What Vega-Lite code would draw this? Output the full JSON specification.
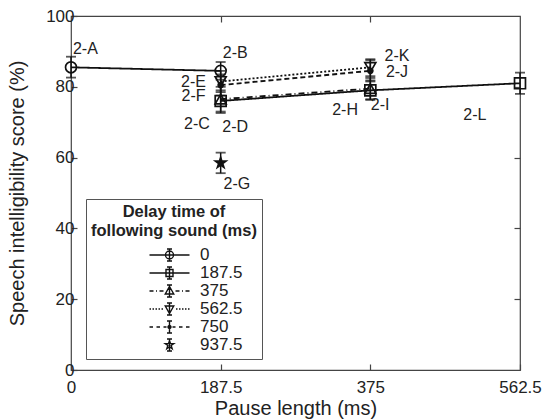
{
  "$schema": "https://vega.github.io/schema/vega-lite/v6.json",
  "width": 449,
  "height": 354,
  "autosize": "none",
  "padding": {"left": 71, "top": 16, "right": 29, "bottom": 49},
  "background": "white",
  "config": {
    "view": {"stroke": "#444", "strokeWidth": 1.2},
    "font": "Liberation Sans",
    "axis": {
      "labelFont": "Liberation Sans",
      "titleFont": "Liberation Sans",
      "labelColor": "#222",
      "titleColor": "#222",
      "titleFontWeight": "normal",
      "labelFontSize": 17,
      "titleFontSize": 20,
      "domain": false,
      "grid": false,
      "tickColor": "#444",
      "tickWidth": 1.2,
      "tickSize": -6,
      "labelFlush": false,
      "labelOverlap": false
    }
  },
  "datasets": {
    "points": [
      {"id": "2-A", "pause": 0, "score": 85.5, "lo": 82.6, "hi": 88.5, "delay": "0"},
      {"id": "2-B", "pause": 187.5, "score": 84.5, "lo": 82, "hi": 87, "delay": "0"},
      {"id": "2-C", "pause": 187.5, "score": 76, "lo": 73, "hi": 79, "delay": "187.5"},
      {"id": "2-D", "pause": 187.5, "score": 76.5, "lo": 72.6, "hi": 80, "delay": "375"},
      {"id": "2-E", "pause": 187.5, "score": 81.5, "lo": 78.5, "hi": 84.5, "delay": "562.5"},
      {"id": "2-F", "pause": 187.5, "score": 80.5, "lo": 77.5, "hi": 83.5, "delay": "750"},
      {"id": "2-G", "pause": 187.5, "score": 58.5, "lo": 55.6, "hi": 61.4, "delay": "937.5"},
      {"id": "2-H", "pause": 375, "score": 79.5, "lo": 76.5, "hi": 82.5, "delay": "375"},
      {"id": "2-I", "pause": 375, "score": 79, "lo": 76.3, "hi": 81.8, "delay": "187.5"},
      {"id": "2-J", "pause": 375, "score": 84.5, "lo": 81.5, "hi": 87.5, "delay": "750"},
      {"id": "2-K", "pause": 375, "score": 85.5, "lo": 83, "hi": 87.8, "delay": "562.5"},
      {"id": "2-L", "pause": 562.5, "score": 81, "lo": 78, "hi": 84, "delay": "187.5"}
    ],
    "labels": [
      {"label": "2-A", "lx": 18, "ly": 90.6},
      {"label": "2-B", "lx": 205.7, "ly": 89.6},
      {"label": "2-C", "lx": 157.7, "ly": 69.4},
      {"label": "2-D", "lx": 205.7, "ly": 68.7},
      {"label": "2-E", "lx": 153.5, "ly": 81.3},
      {"label": "2-F", "lx": 153.5, "ly": 77.4},
      {"label": "2-G", "lx": 207.8, "ly": 52.5},
      {"label": "2-H", "lx": 343.4, "ly": 73.4},
      {"label": "2-I", "lx": 387.2, "ly": 75.0},
      {"label": "2-J", "lx": 408.4, "ly": 84.1},
      {"label": "2-K", "lx": 408.4, "ly": 88.8},
      {"label": "2-L", "lx": 506, "ly": 72.0}
    ]
  },
  "layer": [
    {
      "data": {"name": "points"},
      "mark": {"type": "line", "color": "#111", "strokeWidth": 1.8},
      "encoding": {
        "x": {"field": "pause", "type": "quantitative",
          "scale": {"domain": [0, 562.5], "nice": false, "zero": false},
          "axis": {"orient": "bottom", "values": [0, 187.5, 375, 562.5], "labelExpr": "'' + datum.value",
            "labelPadding": 15, "title": "Pause length (ms)", "titleY": 44, "titleBaseline": "alphabetic"}},
        "y": {"field": "score", "type": "quantitative",
          "scale": {"domain": [0, 100], "nice": false},
          "axis": {"orient": "left", "values": [0, 20, 40, 60, 80, 100], "labelPadding": 3,
            "title": "Speech intelligibility score (%)", "titleX": -48, "titleBaseline": "alphabetic"}},
        "detail": {"field": "delay", "type": "nominal"},
        "strokeDash": {"field": "delay", "type": "nominal",
          "scale": {"domain": ["0", "187.5", "375", "562.5", "750", "937.5"],
            "range": [[1, 0], [1, 0], [6, 3, 1, 3], [2, 2], [5, 3], [1, 0]]},
          "legend": null},
        "order": {"field": "pause", "type": "quantitative"}
      }
    },
    {
      "data": {"name": "points"},
      "mark": {"type": "rule", "color": "#111", "strokeWidth": 1.5},
      "encoding": {
        "x": {"field": "pause", "type": "quantitative", "axis": null},
        "y": {"field": "lo", "type": "quantitative", "axis": null},
        "y2": {"field": "hi"}
      }
    },
    {
      "data": {"name": "points"},
      "mark": {"type": "tick", "orient": "horizontal", "color": "#111", "size": 10, "thickness": 1.8},
      "encoding": {
        "x": {"field": "pause", "type": "quantitative", "axis": null},
        "y": {"field": "lo", "type": "quantitative", "axis": null}
      }
    },
    {
      "data": {"name": "points"},
      "mark": {"type": "tick", "orient": "horizontal", "color": "#111", "size": 10, "thickness": 1.8},
      "encoding": {
        "x": {"field": "pause", "type": "quantitative", "axis": null},
        "y": {"field": "hi", "type": "quantitative", "axis": null}
      }
    },
    {
      "data": {"name": "points"},
      "mark": {"type": "point", "filled": true, "stroke": "#111", "strokeWidth": 1.7, "opacity": 1},
      "encoding": {
        "x": {"field": "pause", "type": "quantitative", "axis": null},
        "y": {"field": "score", "type": "quantitative", "axis": null},
        "shape": {"field": "delay", "type": "nominal",
          "scale": {"domain": ["0", "187.5", "375", "562.5", "750", "937.5"],
            "range": ["circle", "square", "triangle-up", "triangle-down", "circle",
              "M0,-1L0.2245,-0.309L0.951,-0.309L0.363,0.118L0.588,0.809L0,0.382L-0.588,0.809L-0.363,0.118L-0.951,-0.309L-0.2245,-0.309Z"]},
          "legend": null},
        "size": {"condition": {"test": "datum.delay == '750'", "value": 25}, "value": 120},
        "fill": {"condition": {"test": "datum.delay == '750' || datum.delay == '937.5'", "value": "#111"}, "value": "transparent"}
      }
    },
    {
      "data": {"name": "points"},
      "transform": [{"filter": "false"}],
      "mark": {"type": "point", "filled": false, "color": "#111", "strokeWidth": 1.3},
      "encoding": {
        "x": {"field": "pause", "type": "quantitative", "axis": null},
        "y": {"field": "score", "type": "quantitative", "axis": null},
        "shape": {"field": "delay", "type": "nominal",
          "scale": {"domain": ["0", "187.5", "375", "562.5", "750", "937.5"],
            "range": [
              "M-4,0L4,0M0,-1.2L0,1.2M-0.5,-1.2L0.5,-1.2M-0.5,1.2L0.5,1.2M0.8,0A0.8,0.8,0,1,1,-0.8,0A0.8,0.8,0,1,1,0.8,0Z",
              "M-4,0L4,0M0,-1.2L0,1.2M-0.5,-1.2L0.5,-1.2M-0.5,1.2L0.5,1.2M-0.7,-0.7L0.7,-0.7L0.7,0.7L-0.7,0.7Z",
              "M-4,0L-3.2,0M-2.7,0L-2.5,0M-2,0L-1.2,0M1.2,0L2,0M2.5,0L2.7,0M3.2,0L4,0M0,-1.2L0,1.2M-0.5,-1.2L0.5,-1.2M-0.5,1.2L0.5,1.2M0,-0.9L0.85,0.6L-0.85,0.6Z",
              "M-4,0L-3.7,0M-3.4,0L-3.1,0M-2.8,0L-2.5,0M-2.2,0L-1.9,0M-1.6,0L-1.3,0M1.3,0L1.6,0M1.9,0L2.2,0M2.5,0L2.8,0M3.1,0L3.4,0M3.7,0L4,0M0,-1.2L0,1.2M-0.5,-1.2L0.5,-1.2M-0.5,1.2L0.5,1.2M0,0.9L0.85,-0.6L-0.85,-0.6Z",
              "M-4,0L-3.3,0M-2.6,0L-1.9,0M-1.2,0L-0.6,0M0.6,0L1.2,0M1.9,0L2.6,0M3.3,0L4,0M0,-1.2L0,1.2M-0.5,-1.2L0.5,-1.2M-0.5,1.2L0.5,1.2M0.3,0A0.3,0.3,0,1,1,-0.3,0A0.3,0.3,0,1,1,0.3,0Z",
              "M0,-1.2L0,1.2M-0.5,-1.2L0.5,-1.2M-0.5,1.2L0.5,1.2M0,-0.9L0.2,-0.28L0.86,-0.28L0.33,0.11L0.53,0.73L0,0.34L-0.53,0.73L-0.33,0.11L-0.86,-0.28L-0.2,-0.28Z"
            ]},
          "legend": {
            "orient": "none", "legendX": 15, "legendY": 183,
            "title": ["Delay time of", "following sound (ms)"],
            "titleFont": "Liberation Sans", "titleFontSize": 16.5, "titleFontWeight": "bold",
            "titleColor": "#222", "titleAnchor": "middle", "titleAlign": "center",
            "titleLineHeight": 19, "titlePadding": 7,
            "labelFont": "Liberation Sans", "labelFontSize": 17, "labelColor": "#222",
            "symbolSize": 100, "symbolStrokeWidth": 1.4, "symbolFillColor": "transparent",
            "symbolStrokeColor": "#111", "symbolOpacity": 1, "symbolOffset": 55, "labelOffset": 22,
            "rowPadding": -1.5, "strokeColor": "#555", "fillColor": "white", "padding": 5
          }
        }
      }
    },
    {
      "data": {"name": "labels"},
      "mark": {"type": "text", "font": "Liberation Sans", "fontSize": 16, "color": "#222", "align": "center", "baseline": "middle"},
      "encoding": {
        "x": {"field": "lx", "type": "quantitative", "axis": null},
        "y": {"field": "ly", "type": "quantitative", "axis": null},
        "text": {"field": "label", "type": "nominal"}
      }
    },
    {
      "data": {"name": "points"},
      "mark": {"type": "point", "opacity": 0},
      "encoding": {
        "x": {"field": "pause", "type": "quantitative",
          "axis": {"orient": "top", "values": [187.5, 375], "labels": false, "title": null}},
        "y": {"field": "score", "type": "quantitative",
          "axis": {"orient": "right", "values": [20, 40, 60, 80], "labels": false, "title": null}}
      }
    }
  ],
  "resolve": {"scale": {"shape": "independent"}, "axis": {"x": "independent", "y": "independent"}}
}
